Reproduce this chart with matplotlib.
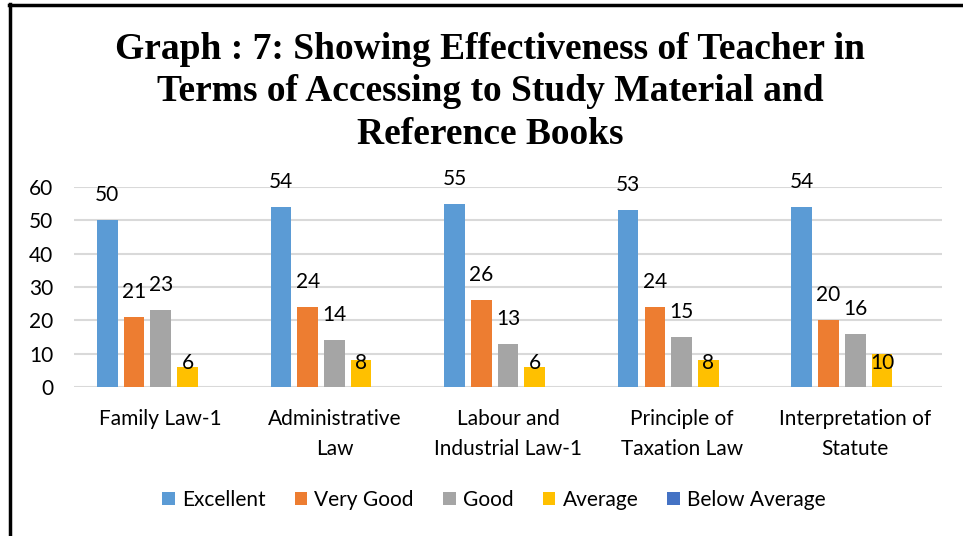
import matplotlib
matplotlib.use("Agg")
import matplotlib.pyplot as plt
from matplotlib.lines import Line2D
from matplotlib.patches import Patch
import numpy as np

CATEGORIES = ["Family Law-1", "Administrative\nLaw", "Labour and\nIndustrial Law-1",
              "Principle of\nTaxation Law", "Interpretation of\nStatute"]
SERIES = ["Excellent", "Very Good", "Good", "Average", "Below Average"]
EXCELLENT = [50, 54, 55, 53, 54]
VERY_GOOD = [21, 24, 26, 24, 20]
GOOD = [23, 14, 13, 15, 16]
AVERAGE = [6, 8, 6, 8, 10]
BELOW_AVERAGE = [0, 0, 0, 0, 0]
COLORS = ["#5B9BD5", "#ED7D31", "#A5A5A5", "#FFC000", "#4472C4"]

TITLE = ("Graph : 7: Showing Effectiveness of Teacher in\n"
         "Terms of Accessing to Study Material and\nReference Books")

W, H = 963, 536
fig = plt.figure(figsize=(W / 100, H / 100), dpi=100)
ax = fig.add_axes([74 / W, 149 / H, (942 - 74) / W, 200 / H])

values = [EXCELLENT, VERY_GOOD, GOOD, AVERAGE, BELOW_AVERAGE]
x = np.arange(len(CATEGORIES))
pitch, width = 0.154, 0.119
font = "Lato"
fs = 15

for i, (vals, col) in enumerate(zip(values, COLORS)):
    xs = x + (i - 2) * pitch
    ax.bar(xs, vals, width=width, color=col, zorder=3)
    if i == 4:
        continue  # zero values carry no label
    for xi, v in zip(xs, vals):
        # the Average labels sit at a common height in the original
        ly = 7.3 if i == 3 else v + 7.5
        ax.text(xi, ly, str(v), ha="center", va="center", fontsize=fs,
                family=font, color="#000000", zorder=4)

ax.set_xlim(-0.5, len(CATEGORIES) - 0.5)
ax.set_ylim(0, 60)
ax.set_yticks(range(0, 61, 10))
ax.yaxis.grid(True, color="#D9D9D9", lw=1.5, zorder=0)
ax.set_axisbelow(True)
for s in ax.spines.values():
    s.set_visible(False)
ax.tick_params(axis="both", length=0)
ax.tick_params(axis="y", pad=15)
ax.tick_params(axis="x", pad=16)
ax.set_xticks(x)
ax.set_xticklabels(CATEGORIES, fontsize=fs, family=font, linespacing=1.6)
for lbl in ax.get_yticklabels():
    lbl.set_fontsize(fs)
    lbl.set_family(font)

fig.text(490 / W, 1 - 92 / H, TITLE, ha="center", va="center", fontsize=27,
         family="Liberation Serif", weight="bold", linespacing=1.27)

handles = [Patch(facecolor=c, edgecolor="none") for c in COLORS]
fig.legend(handles, SERIES, loc="center", bbox_to_anchor=(494 / W, 1 - 500 / H),
           ncol=5, frameon=False, prop={"family": font, "size": fs},
           handlelength=0.6, handleheight=0.6, handletextpad=0.35, columnspacing=1.4)

# page frame: top and left rules
fig.add_artist(Line2D([9 / W, 1], [1 - 5 / H, 1 - 5 / H], color="black", lw=2.5,
                      transform=fig.transFigure))
fig.add_artist(Line2D([9.5 / W, 9.5 / W], [0, 1 - 4 / H], color="black", lw=2.5,
                      transform=fig.transFigure))

fig.savefig("out.png", dpi=100)
